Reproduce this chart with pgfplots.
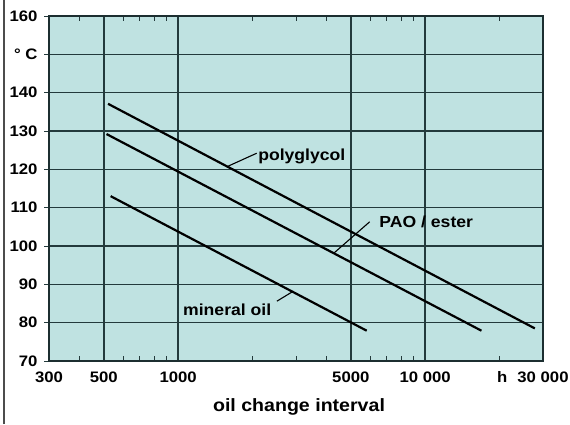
\documentclass[border=0pt]{standalone}
\usepackage{pgfplots}
\pgfplotsset{compat=1.18}
\usepackage{fontspec}
\setmainfont{Liberation Sans}
\newfontfamily\chartfont[FakeStretch=1.1]{Liberation Sans}
\definecolor{bgcyan}{RGB}{191,226,225}
\definecolor{gridc}{RGB}{35,58,60}

\begin{document}
\begin{tikzpicture}
\path[use as bounding box] (-49pt,-63pt) rectangle (521pt,361pt);
\draw[line width=1.4pt, black!70] (-45pt,-63pt) -- (-45pt,361pt);
\begin{axis}[
  xmode=log, scale only axis, width=494pt, height=345pt,
  xmin=300, xmax=30000, ymin=70, ymax=160,
  axis background/.style={fill=bgcyan},
  xtick={300,500,1000,5000,10000,30000},
  xticklabels={300,500,1000,5000,10\ 000,\llap{h\hspace{10pt}}30\ 000},
  minor xtick={400,600,700,800,900,2000,3000,4000,6000,7000,8000,9000,20000},
  ytick={70,80,...,160},
  yticklabels={70,80,90,100,110,120,130,140,{°\ C},160},
  ytick pos=left,
  tick align=inside,
  major tick length=5pt, minor tick length=5pt,
  tick style={gridc, line width=1pt},
  ytick style={xshift=-5pt},
  xmajorgrids=true, ymajorgrids=true,
  major grid style={gridc, line width=1.5pt},
  axis line style={gridc!80!black, line width=1.8pt},
  x tick label style={font=\chartfont\bfseries\fontsize{15.2}{17}\selectfont, anchor=base, yshift=-21pt},
  y tick label style={font=\chartfont\bfseries\fontsize{15.2}{17}\selectfont, anchor=east, xshift=-8pt},
  clip=false,
]
\addplot[black, line width=2.2pt] coordinates {(520,137.1) (27800,78.5)};
\addplot[black, line width=2.2pt] coordinates {(513,129.2) (16900,77.9)};
\addplot[black, line width=2.2pt] coordinates {(533,113.0) (5800,77.9)};

\draw[black, line width=1.1pt] (axis cs:2079,124.2) -- (axis cs:1590,120.8);
\draw[black, line width=1.1pt] (axis cs:5960,106.3) -- (axis cs:4262,98.1);
\draw[black, line width=1.1pt] (axis cs:2510,85.6) -- (axis cs:2890,88.0);

\node[anchor=base west, inner sep=0pt, font=\chartfont\bfseries\fontsize{16}{18}\selectfont] at (axis cs:2106,122.2) {polyglycol};
\node[anchor=base west, inner sep=0pt, font=\chartfont\bfseries\fontsize{16}{18}\selectfont] at (axis cs:6519,104.9) {PAO / ester};
\node[anchor=base west, inner sep=0pt, font=\chartfont\bfseries\fontsize{16}{18}\selectfont] at (axis cs:1046,82.0) {mineral oil};
\end{axis}
\node[anchor=base, inner sep=0pt, font=\chartfont\bfseries\fontsize{17.8}{20}\selectfont] at (250pt,-50.7pt) {oil change interval};
\end{tikzpicture}
\end{document}
